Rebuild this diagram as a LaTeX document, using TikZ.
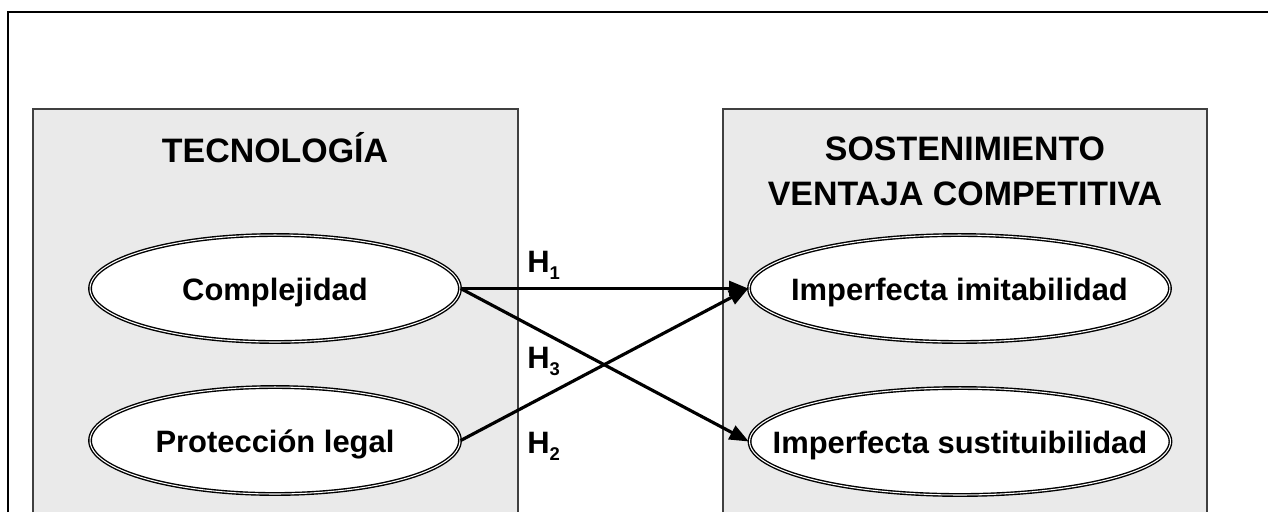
\documentclass[tikz,border=0pt]{standalone}
\usepackage{fontspec}
\setmainfont{Liberation Sans}
\usepackage{tikz}
\usetikzlibrary{shapes.geometric,arrows.meta}
\definecolor{boxgray}{RGB}{234,234,234}
\newcommand{\Hsub}[1]{H\raisebox{-4.5pt}{\fontsize{10.5}{12}\selectfont #1}}

\begin{document}
\begin{tikzpicture}[x=0.02cm,y=-0.02cm,
  var/.style={ellipse, draw, fill=white, double, double distance=0.6pt, line width=0.8pt, minimum height=2.14cm, inner xsep=-1cm, inner ysep=0pt, text height=14pt, text depth=0pt, font=\fontsize{17.6}{21}\selectfont\bfseries},
  hyp/.style={line width=1.8pt, -{Triangle[length=11pt,width=8.5pt]}},
  lab/.style={anchor=base west, inner sep=0pt, font=\fontsize{17.6}{21}\selectfont\bfseries},
  title/.style={anchor=base, align=center, inner sep=0pt, font=\fontsize{19.3}{25.5}\selectfont\bfseries}]

\useasboundingbox (0,0) rectangle (1268,512);
\draw[line width=1.1pt] (8,512) -- (8,12) -- (1268,12);

\draw[fill=boxgray, draw=black!75, line width=0.7pt] (33,512) -- (33,109) -- (518,109) -- (518,512);
\draw[fill=boxgray, draw=black!75, line width=0.7pt] (723,512) -- (723,109) -- (1207,109) -- (1207,512);

\node[title] (tec) at (275,162) {TECNOLOGÍA};
\node[title] (sos) at (965,205) {SOSTENIMIENTO\\VENTAJA COMPETITIVA};

\node[var, minimum width=7.4cm] (comp) at (275,288.5) {Complejidad};
\node[var, minimum width=7.4cm] (prot) at (275,440.5) {Protección legal};
\node[var, minimum width=8.42cm] (imit) at (959.5,288.5) {Imperfecta imitabilidad};
\node[var, minimum width=8.42cm] (sust) at (960,441.5) {Imperfecta sustituibilidad};

\draw[hyp] (comp.east) -- (imit.west);
\draw[hyp] (comp.east) -- (sust.west);
\draw[hyp] (prot.east) -- (imit.west);

\node[lab] (h1) at (527,272) {\Hsub{1}};
\node[lab] (h3) at (527,368) {\Hsub{3}};
\node[lab] (h2) at (527,453) {\Hsub{2}};
\end{tikzpicture}
\end{document}
